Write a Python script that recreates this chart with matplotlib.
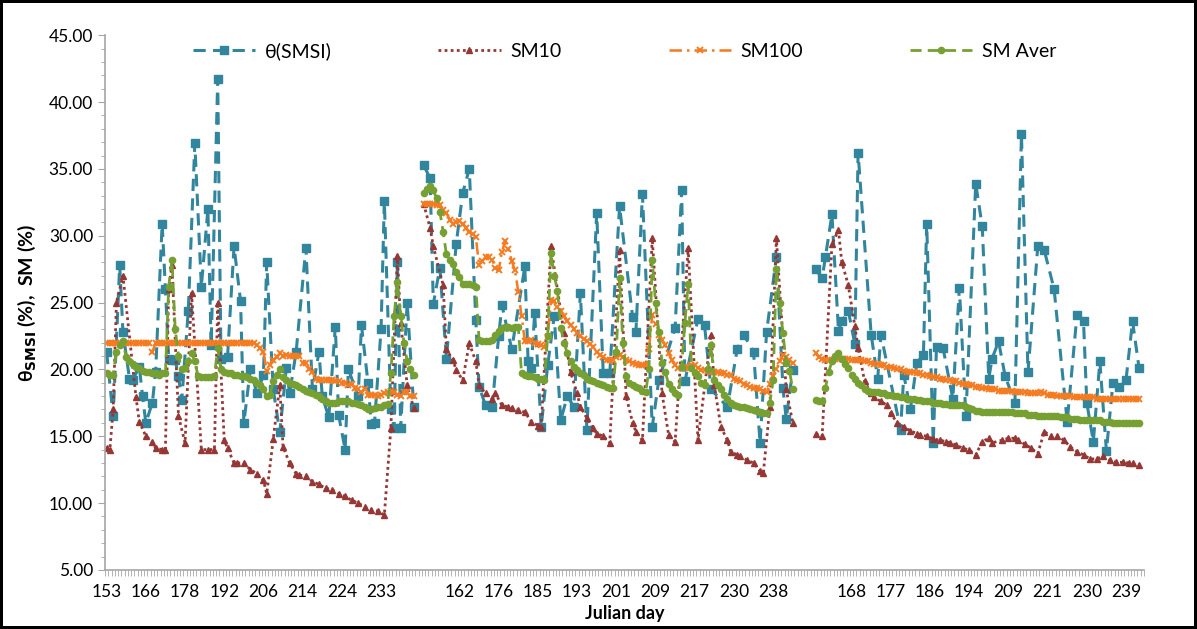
import numpy as np
import matplotlib.pyplot as plt
from matplotlib.ticker import MultipleLocator, FixedLocator, FormatStrFormatter

plt.rcParams['font.family'] = ['Lato', 'DejaVu Sans']

# x axis: one category per observation day, a label every 12 categories
n_categories = 318
label_step = 12
day_labels = ['153', '166', '178', '192', '206', '214', '224', '233', '',
              '162', '176', '185', '193', '201', '209', '217', '230', '238', '',
              '168', '177', '186', '194', '209', '221', '230', '239']

# first category of each season
start1, start2, start3 = 0, 97, 217

# theta(SMSI): sparse satellite values (category, value)
smsi_x1 = [0, 2, 4, 5, 7, 8, 10, 11, 12, 14, 15, 17, 18, 19, 20, 21, 22, 23, 25, 27,
           29, 31, 32, 34, 35, 37, 39, 41, 42, 44, 46, 48, 49, 51, 53, 55, 56, 58, 61, 63,
           65, 66, 68, 70, 71, 73, 74, 77, 78, 80, 81, 82, 84, 85, 87, 88, 89, 90, 92, 94]
smsi_y1 = [21.3, 16.5, 27.8, 22.8, 19.3, 19.2, 20.2, 18.0, 16.0, 17.5, 19.8, 30.9, 26.0, 20.8, 20.7, 20.7, 19.5, 17.7, 24.4, 36.9,
           26.2, 32.0, 21.8, 41.7, 20.8, 20.9, 29.2, 25.1, 16.0, 20.0, 18.2, 19.6, 28.0, 18.5, 15.3, 20.1, 18.2, 21.3, 29.1, 18.5,
           21.3, 18.0, 16.4, 23.2, 16.6, 14.0, 20.0, 18.0, 23.3, 19.0, 15.9, 16.0, 23.0, 32.6, 17.0, 15.6, 28.0, 15.6, 25.0, 17.2]
smsi_x2 = [97, 99, 100, 102, 104, 107, 109, 111, 113, 114, 116, 118, 120, 121, 124, 128, 129, 130, 131, 133,
           135, 137, 139, 141, 143, 145, 147, 150, 152, 154, 157, 161, 162, 164, 167, 169, 174, 176, 177, 181,
           183, 185, 190, 193, 195, 198, 200, 202, 205, 207, 208, 210]
smsi_y2 = [35.3, 34.3, 24.9, 27.6, 20.8, 29.4, 33.2, 35.0, 23.7, 18.7, 17.3, 17.2, 22.5, 24.8, 21.5, 27.7, 20.6, 20.1, 24.2, 15.7,
           20.3, 24.0, 16.2, 18.0, 17.2, 25.7, 15.5, 31.7, 19.7, 19.7, 32.2, 23.9, 22.8, 33.1, 15.7, 19.2, 23.1, 33.4, 19.1, 23.8,
           23.3, 18.5, 17.2, 21.5, 22.6, 21.3, 14.5, 22.8, 28.4, 18.6, 16.3, 19.95]
smsi_x3 = [217, 219, 220, 222, 224, 225, 227, 229, 230, 234, 236, 237, 243, 244, 246, 248, 250, 251, 253, 254,
           256, 259, 261, 263, 266, 268, 270, 271, 273, 275, 278, 280, 282, 285, 287, 290, 294, 297, 299, 300,
           302, 304, 306, 308, 310, 312, 314, 316]
smsi_y3 = [27.5, 26.8, 28.4, 31.6, 22.9, 23.6, 24.4, 21.9, 36.2, 22.6, 19.3, 22.6, 15.5, 19.6, 17.0, 20.5, 21.1, 30.9, 14.5, 21.7,
           21.6, 17.8, 26.1, 16.5, 33.9, 30.7, 19.3, 20.8, 22.1, 19.5, 17.5, 37.6, 19.8, 29.2, 28.9, 26.0, 16.1, 24.1, 23.6, 17.5,
           14.6, 20.6, 13.9, 19.0, 18.7, 19.2, 23.6, 20.1]

# SM10 (category, value)
sm10_x1 = [0, 1, 2, 3, 5, 9, 10, 12, 14, 15, 17, 18, 19, 20, 22, 24, 26, 29, 31, 33,
           34, 36, 37, 39, 40, 42, 44, 46, 48, 49, 51, 53, 54, 56, 58, 59, 61, 63, 65, 67,
           69, 71, 73, 75, 77, 79, 81, 83, 85, 87, 89, 90, 92, 94]
sm10_y1 = [14.1, 14.0, 17.0, 25.0, 27.0, 17.9, 16.1, 15.0, 14.6, 14.1, 14.0, 14.0, 26.0, 27.8, 16.5, 14.5, 25.7, 14.0, 14.0, 14.0,
           25.0, 14.7, 14.1, 13.0, 13.0, 13.0, 12.5, 12.2, 11.7, 10.7, 14.8, 18.8, 14.2, 13.0, 12.2, 12.1, 12.0, 11.6, 11.4, 11.1,
           11.0, 10.7, 10.5, 10.2, 10.0, 9.7, 9.5, 9.4, 9.1, 15.6, 28.5, 23.5, 18.8, 17.1]
sm10_x2 = [97, 99, 100, 103, 104, 106, 107, 109, 111, 113, 114, 116, 118, 119, 121, 123, 124, 126, 128, 130,
           132, 133, 136, 140, 142, 144, 145, 147, 149, 150, 152, 154, 157, 159, 161, 162, 164, 167, 170, 172,
           174, 178, 181, 185, 186, 188, 190, 191, 193, 194, 196, 198, 200, 201, 203, 205, 208, 210]
sm10_y2 = [32.4, 30.6, 29.2, 26.3, 21.5, 20.7, 19.95, 19.2, 21.95, 20.6, 18.8, 18.2, 17.8, 18.2, 17.3, 17.2, 17.1, 16.95, 16.8, 16.1,
           15.8, 15.7, 29.2, 22.7, 19.8, 18.2, 17.2, 16.35, 15.6, 15.2, 15.0, 14.5, 28.9, 18.0, 16.0, 15.35, 14.7, 29.8, 18.2, 15.1,
           14.6, 29.05, 14.7, 22.6, 18.8, 15.7, 14.7, 13.85, 13.6, 13.5, 13.2, 13.0, 12.4, 12.25, 17.2, 29.8, 18.5, 16.0]
sm10_x3 = [217, 219, 222, 224, 225, 227, 229, 230, 232, 234, 235, 237, 239, 240, 242, 244, 246, 248, 249, 251,
           253, 255, 257, 258, 260, 262, 264, 266, 268, 270, 271, 274, 276, 278, 279, 281, 283, 285, 287, 289,
           291, 293, 295, 297, 299, 301, 303, 305, 307, 309, 311, 313, 314, 316]
sm10_y3 = [15.2, 15.0, 29.4, 30.4, 28.05, 26.3, 23.25, 21.6, 19.1, 18.2, 17.9, 17.6, 17.3, 16.7, 16.0, 15.7, 15.4, 15.2, 15.1, 15.0,
           14.8, 14.7, 14.6, 14.5, 14.35, 14.1, 13.97, 13.6, 14.6, 14.85, 14.5, 14.7, 14.85, 14.85, 14.7, 14.4, 14.1, 13.7, 15.35, 15.0,
           15.0, 14.7, 14.2, 13.85, 13.6, 13.3, 13.3, 13.5, 13.2, 13.05, 13.05, 13.0, 12.98, 12.85]

# SM100, one value per category from the season start
sm100_y1 = [22.0, 22.0, 22.0, 22.0, 22.0, 22.0, 22.0, 22.0, 22.0, 22.0,
            22.0, 22.0, 22.0, 22.0, 21.3, 22.0, 22.0, 22.0, 22.0, 22.0,
            22.0, 22.0, 22.0, 22.0, 22.0, 22.0, 22.0, 22.0, 22.0, 22.0,
            22.0, 22.0, 22.0, 22.0, 22.0, 22.0, 22.0, 22.0, 22.0, 22.0,
            22.0, 22.0, 22.0, 22.0, 22.0, 22.0, 21.8, 21.6, 21.3, 19.9,
            20.3, 20.7, 20.9, 21.2, 21.0, 21.1, 21.0, 21.0, 21.0, 21.0,
            20.5, 20.5, 20.0, 19.8, 19.3, 19.2, 19.2, 19.2, 19.2, 19.2,
            19.1, 19.1, 19.0, 19.0, 18.8, 18.9, 18.6, 18.5, 18.3, 18.5,
            18.1, 18.1, 18.1, 18.0, 18.1, 18.2, 18.3, 18.4, 18.3, 18.1,
            18.0, 18.3, 18.3, 18.0, 18.0]
sm100_y2 = [32.4, 32.4, 32.4, 32.4, 32.3, 32.3,
            31.9, 31.7, 31.2, 30.9, 31.0, 31.1, 30.9, 30.6, 30.3, 30.1,
            29.9, 27.8, 28.1, 28.4, 28.4, 28.2, 27.6, 27.4, 28.8, 29.6,
            29.0, 28.1, 27.4, 25.8, 24.0, 22.1, 22.1, 22.2, 22.0, 21.9,
            21.8, 21.7, 22.4, 25.2, 25.1, 24.7, 24.4, 24.0, 23.6, 23.3,
            23.0, 22.7, 22.5, 22.3, 22.1, 21.9, 21.7, 21.3, 21.1, 20.9,
            20.7, 20.7, 20.7, 20.9, 21.1, 20.9, 20.7, 20.6, 20.5, 20.4,
            20.3, 20.3, 20.3, 21.5, 24.1, 23.4, 22.6, 22.2, 21.8, 21.2,
            20.7, 20.3, 20.1, 20.1, 20.1, 20.2, 20.3, 20.3, 20.1, 19.95,
            19.95, 19.9, 19.8, 19.8, 19.8, 19.7, 19.7, 19.6, 19.6, 19.3,
            19.2, 19.1, 18.9, 18.8, 18.7, 18.6, 18.6, 18.5, 18.4, 18.3,
            18.9, 19.5, 20.0, 20.6, 21.1, 20.9, 20.7, 20.5]
sm100_y3 = [21.2, 20.9, 20.8, 20.7, 20.7, 20.7, 20.8, 20.8, 20.8, 20.8,
            20.8, 20.7, 20.7, 20.7, 20.7, 20.6, 20.6, 20.5, 20.4, 20.4,
            20.3, 20.3, 20.2, 20.2, 20.1, 20.0, 20.0, 19.9, 19.8, 19.8,
            19.8, 19.7, 19.7, 19.6, 19.6, 19.5, 19.4, 19.4, 19.3, 19.3,
            19.2, 19.2, 19.1, 19.1, 19.0, 18.9, 18.9, 18.8, 18.8, 18.7,
            18.7, 18.6, 18.6, 18.5, 18.5, 18.5, 18.4, 18.4, 18.4, 18.4,
            18.4, 18.3, 18.3, 18.3, 18.3, 18.2, 18.2, 18.2, 18.2, 18.3,
            18.2, 18.1, 18.1, 18.1, 18.0, 18.0, 18.0, 18.0, 18.0, 17.9,
            17.9, 17.9, 17.9, 17.9, 17.9, 17.9, 17.8, 17.8, 17.8, 17.8,
            17.8, 17.8, 17.8, 17.8, 17.8, 17.8, 17.8, 17.8, 17.8, 17.8]

# SM Aver, one value per category from the season start
smav_y1 = [19.7, 19.6, 19.6, 21.3, 21.8, 22.1, 20.9, 20.6, 20.4, 20.2,
           20.1, 19.9, 19.8, 19.8, 19.7, 19.7, 19.6, 19.7, 19.7, 26.2,
           28.2, 23.0, 21.0, 20.0, 20.1, 20.6, 21.2, 20.6, 19.5, 19.4,
           19.4, 19.4, 19.4, 19.5, 21.6, 20.0, 19.8, 19.7, 19.7, 19.6,
           19.6, 19.5, 19.5, 19.4, 19.3, 19.2, 19.0, 18.8, 18.5, 18.0,
           18.1, 19.1, 19.6, 20.0, 19.4, 19.2, 19.0, 18.9, 18.8, 18.7,
           18.5, 18.4, 18.3, 18.2, 18.1, 18.0, 17.8, 17.6, 17.5, 17.5,
           17.5, 17.6, 17.6, 17.6, 17.6, 17.5, 17.5, 17.4, 17.3, 17.2,
           17.0, 17.0, 17.1, 17.2, 17.2, 17.3, 17.4, 19.7, 24.0, 26.5,
           24.0, 22.0, 20.6, 20.0, 19.6]
smav_y2 = [33.2, 33.5, 33.7, 33.4, 32.8, 31.8, 30.3, 28.6, 28.2, 27.9,
           27.3, 26.9, 26.4, 26.4, 26.4, 26.3, 26.2, 22.2, 22.1, 22.1,
           22.1, 22.2, 22.6, 22.9, 23.1, 23.2, 23.2, 23.1, 23.2, 23.2,
           19.7, 19.6, 19.5, 19.5, 19.4, 19.3, 19.3, 19.2, 22.5, 28.7,
           27.0, 25.9, 23.1, 22.0, 21.2, 20.6, 20.2, 19.95, 19.7, 19.6,
           19.3, 19.2, 19.1, 19.0, 18.9, 18.8, 18.7, 18.6, 18.6, 21.3,
           26.8, 22.0, 19.5, 19.0, 18.8, 18.7, 18.6, 18.4, 18.3, 20.0,
           28.2, 25.0, 22.8, 20.5, 19.8, 18.9, 18.5, 18.2, 18.1, 20.2,
           23.5, 26.4, 20.1, 19.7, 19.5, 19.0, 18.8, 20.0, 21.8, 19.2,
           18.8, 18.5, 18.1, 17.8, 17.5, 17.3, 17.25, 17.2, 17.15, 17.1,
           17.0, 16.95, 16.9, 16.8, 16.75, 16.7, 17.5, 19.2, 27.5, 25.0,
           22.7, 20.5, 19.9, 18.5]
smav_y3 = [17.7, 17.6, 17.6, 18.6, 19.8, 20.6, 21.0, 21.25, 20.8, 20.4,
           20.1, 19.6, 19.3, 19.0, 18.8, 18.5, 18.4, 18.3, 18.3, 18.3,
           18.2, 18.2, 18.1, 18.1, 18.0, 18.0, 17.9, 17.9, 17.8, 17.8,
           17.8, 17.7, 17.7, 17.6, 17.6, 17.6, 17.5, 17.5, 17.5, 17.4,
           17.4, 17.3, 17.3, 17.3, 17.3, 17.3, 17.2, 17.1, 17.0, 16.9,
           16.9, 16.8, 16.8, 16.8, 16.8, 16.8, 16.8, 16.8, 16.8, 16.8,
           16.8, 16.7, 16.7, 16.7, 16.7, 16.6, 16.6, 16.6, 16.5, 16.5,
           16.5, 16.5, 16.5, 16.5, 16.5, 16.4, 16.4, 16.4, 16.3, 16.3,
           16.3, 16.2, 16.2, 16.2, 16.2, 16.2, 16.2, 16.2, 16.1, 16.1,
           16.1, 16.0, 16.0, 16.0, 16.0, 16.0, 16.0, 16.0, 16.0, 16.0]


def consecutive(start, values):
    return start + np.arange(len(values)), values


fig = plt.figure(figsize=(11.97, 6.29), dpi=100)
fig.patch.set_edgecolor('black')
fig.patch.set_linewidth(3)
ax = fig.add_axes([0.0877, 0.094, 0.868, 0.850])

styles = [
    ('θ(SMSI)', [(smsi_x1, smsi_y1), (smsi_x2, smsi_y2), (smsi_x3, smsi_y3)],
     dict(color='#31859C', lw=2.2, ls=(0, (4, 2.4)), marker='s', ms=5.5)),
    ('SM10', [(sm10_x1, sm10_y1), (sm10_x2, sm10_y2), (sm10_x3, sm10_y3)],
     dict(color='#953735', lw=2.0, ls=(0, (1, 1.2)), marker='^', ms=5)),
    ('SM100', [consecutive(start1, sm100_y1), consecutive(start2, sm100_y2), consecutive(start3, sm100_y3)],
     dict(color='#F47B20', lw=1.8, ls=(0, (5, 2, 1, 2)), marker='x', ms=4.5, mew=1.4)),
    ('SM Aver', [consecutive(start1, smav_y1), consecutive(start2, smav_y2), consecutive(start3, smav_y3)],
     dict(color='#77A033', lw=2.0, ls=(0, (4, 2.2)), marker='o', ms=4.5)),
]

for name, segments, style in styles:
    for k, (xs, ys) in enumerate(segments):
        ax.plot(xs, ys, label=name if k == 0 else None, **style)

ax.set_xlim(-0.5, n_categories - 0.5)
ax.set_ylim(5, 45)

label_pos = np.arange(len(day_labels)) * label_step
ax.xaxis.set_major_locator(FixedLocator(label_pos))
ax.set_xticklabels(day_labels)
ax.xaxis.set_minor_locator(FixedLocator(np.arange(n_categories + 1) - 0.5))
ax.yaxis.set_major_locator(MultipleLocator(5))
ax.yaxis.set_minor_locator(MultipleLocator(1))
ax.yaxis.set_major_formatter(FormatStrFormatter('%.2f'))

grey = '#A6A6A6'
for side in ['top', 'right']:
    ax.spines[side].set_visible(False)
for side in ['left', 'bottom']:
    ax.spines[side].set_color(grey)
    ax.spines[side].set_linewidth(1.2)
ax.tick_params(axis='x', which='major', length=0, labelsize=12.5, pad=10)
ax.tick_params(axis='x', which='minor', length=4, color=grey, direction='out')
ax.tick_params(axis='y', which='major', length=5, color=grey, labelsize=12.5)
ax.tick_params(axis='y', which='minor', length=3, color=grey)

ax.set_xlabel('Julian day', fontsize=13, fontweight='bold', labelpad=4)
ax.set_ylabel('θ$_{\\mathbf{SMSI}}$ (%),  SM (%)', fontsize=14, fontweight='bold', labelpad=8)

ax.legend(loc='upper center', bbox_to_anchor=(0.5, 1.02), ncol=4, frameon=False,
          fontsize=14, handlelength=3.2, columnspacing=5.5, handletextpad=0.5)

fig.savefig('out.png', dpi=100)
